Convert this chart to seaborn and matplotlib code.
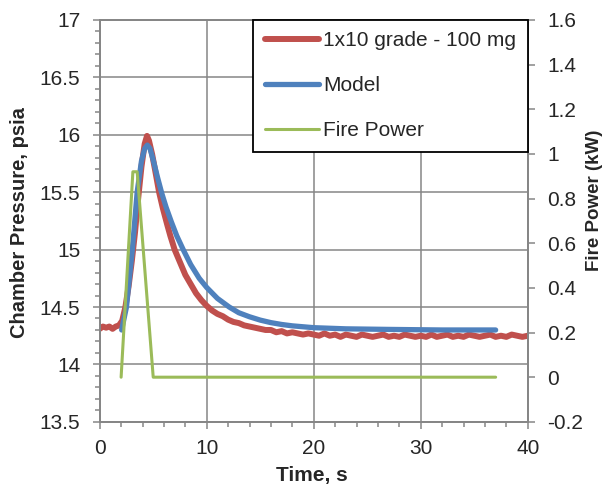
import numpy as np
import pandas as pd
import matplotlib.pyplot as plt
import seaborn as sns
from matplotlib.ticker import MultipleLocator

# measured chamber pressure (psia)
red_t = [0, 0.3, 0.6, 0.9, 1.2, 1.5, 1.8, 2.1, 2.4, 2.7, 3.0, 3.3, 3.6, 3.9, 4.2, 4.42,
         4.6, 4.9, 5.2, 5.55, 5.9, 6.3, 6.6, 7.0, 7.5, 8.0, 8.5, 9.0, 9.5, 10.0,
         10.5, 11, 11.5, 12, 12.5, 13, 13.5, 14, 14.5, 15, 15.5, 16, 16.5, 17, 17.5,
         18, 18.5, 19, 19.5, 20, 20.5, 21, 21.5, 22, 22.5, 23, 23.5, 24, 24.5, 25,
         25.5, 26, 26.5, 27, 27.5, 28, 28.5, 29, 29.5, 30, 30.5, 31, 31.5, 32, 32.5,
         33, 33.5, 34, 34.5, 35, 35.5, 36, 36.5, 37, 37.5, 38, 38.5, 39, 39.5, 40]
red_p = [14.31, 14.33, 14.32, 14.33, 14.31, 14.33, 14.34, 14.38, 14.50, 14.68, 14.90,
         15.15, 15.45, 15.72, 15.92, 15.99,
         15.95, 15.83, 15.68, 15.50, 15.36, 15.22, 15.12, 15.00, 14.89, 14.78, 14.70,
         14.62, 14.56, 14.51,
         14.47, 14.44, 14.42, 14.39, 14.37, 14.36, 14.34, 14.33, 14.32, 14.31, 14.30,
         14.30, 14.28, 14.29, 14.27, 14.28, 14.27, 14.26, 14.27, 14.26, 14.25, 14.27,
         14.25, 14.26, 14.24, 14.26, 14.25, 14.24, 14.26, 14.25, 14.24, 14.25, 14.26,
         14.24, 14.25, 14.24, 14.26, 14.25, 14.24, 14.25, 14.24, 14.26, 14.24, 14.25,
         14.26, 14.24, 14.25, 14.24, 14.26, 14.25, 14.24, 14.25, 14.26, 14.24, 14.25,
         14.24, 14.26, 14.25, 14.24, 14.25]

# model prediction (psia)
model_t = [2.05, 2.5, 3.05, 3.5, 3.9, 4.2, 4.45, 4.7, 5.0, 5.4, 5.8, 6.2, 6.7, 7.2,
           7.8, 8.5, 9.3, 10.0, 11.0, 12.1, 13.0, 14.0, 15.0, 16.0, 17.0, 18.0,
           20.0, 23.0, 27.0, 32.0, 37.0]
model_p = [14.30, 14.50, 15.00, 15.50, 15.77, 15.88, 15.91, 15.88, 15.78, 15.63,
           15.49, 15.37, 15.24, 15.12, 15.00, 14.87, 14.75, 14.67, 14.575, 14.50,
           14.45, 14.415, 14.386, 14.364, 14.348, 14.336, 14.32, 14.31, 14.305,
           14.30, 14.30]

# fire power (kW)
fire_t = [2.0, 3.1, 3.5, 5.0, 37.0]
fire_kw = [0.0, 0.92, 0.92, 0.0, 0.0]

sns.set_style('ticks')
plt.rcParams['font.family'] = ['Liberation Sans', 'DejaVu Sans']

grid_c = '#868686'
fs = 15
fig, ax = plt.subplots(figsize=(6.08, 4.86), dpi=100)
fig.subplots_adjust(left=0.164, right=0.868, top=0.959, bottom=0.132)
ax2 = ax.twinx()

sns.lineplot(x=red_t, y=red_p, ax=ax, color='#C0504D', lw=4.3,
             solid_capstyle='round', label='1x10 grade - 100 mg', legend=False)
sns.lineplot(x=model_t, y=model_p, ax=ax, color='#4F81BD', lw=3.8,
             solid_capstyle='round', label='Model', legend=False)
sns.lineplot(x=fire_t, y=fire_kw, ax=ax2, color='#9BBB59', lw=2.2,
             label='Fire Power', legend=False)

ax.set_xlim(0, 40)
ax.set_ylim(13.5, 17)
ax2.set_ylim(-0.2, 1.6)
ax.xaxis.set_major_locator(MultipleLocator(10))
ax.xaxis.set_minor_locator(MultipleLocator(2))
ax.yaxis.set_minor_locator(MultipleLocator(0.1))
ax.set_yticks(np.arange(13.5, 17.01, 0.5))
ax.set_yticklabels(['13.5', '14', '14.5', '15', '15.5', '16', '16.5', '17'])
ax2.set_yticks(np.arange(-0.2, 1.61, 0.2))
ax2.set_yticklabels(['-0.2', '0', '0.2', '0.4', '0.6', '0.8', '1', '1.2', '1.4', '1.6'])

ax.grid(True, which='major', color=grid_c, lw=1.1)
ax.set_axisbelow(True)
for a in (ax, ax2):
    for s in a.spines.values():
        s.set_color(grid_c)
        s.set_linewidth(1.3)
ax.tick_params(axis='y', which='major', length=5, width=1.1, color=grid_c, labelsize=fs, pad=9)
ax.tick_params(axis='x', which='major', length=5, width=1.1, color=grid_c, labelsize=fs, pad=7)
ax.tick_params(which='minor', length=3.5, width=1.1, color=grid_c)
ax2.tick_params(which='major', length=5, width=1.1, color=grid_c, labelsize=fs, pad=9)

ax.set_xlabel('Time, s', fontsize=15, fontweight='bold', va='center')
ax.xaxis.set_label_coords(0.495, -0.133)
ax.set_ylabel('Chamber Pressure, psia', fontsize=14.5, fontweight='bold', va='center')
ax.yaxis.set_label_coords(-0.187, 0.495)
ax2.set_ylabel('Fire Power (kW)', fontsize=13.5, fontweight='bold', va='center')
ax2.yaxis.set_label_coords(1.157, 0.552)

h1, l1 = ax.get_legend_handles_labels()
h2, l2 = ax2.get_legend_handles_labels()
leg = ax2.legend(h1 + h2, l1 + l2, loc='upper right', bbox_to_anchor=(1.0, 1.0),
                 borderaxespad=0, fontsize=fs, frameon=True, fancybox=False,
                 handlelength=2.6, handletextpad=0.2, labelspacing=1.25,
                 borderpad=0.55, framealpha=1)
leg.get_frame().set_edgecolor('black')
leg.get_frame().set_linewidth(1.3)

fig.savefig('out.png', dpi=100)
